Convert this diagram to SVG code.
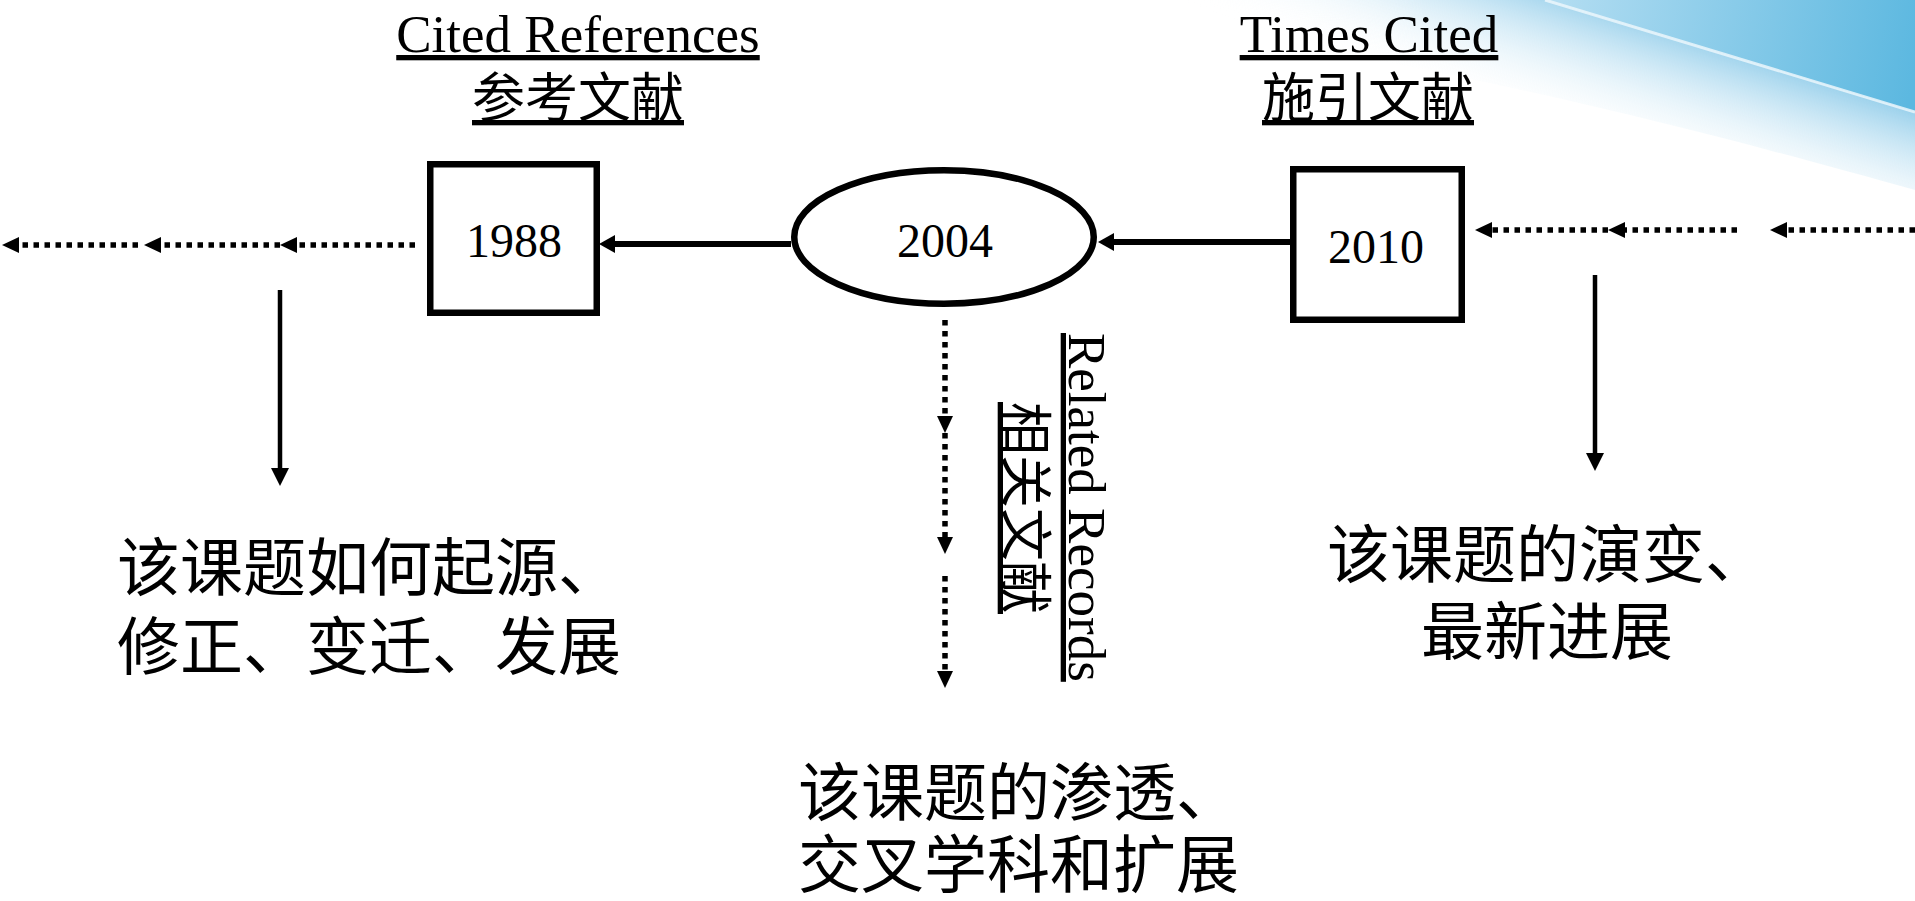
<svg xmlns="http://www.w3.org/2000/svg" width="1915" height="901" viewBox="0 0 1915 901">
<style>
.en{font-family:"Liberation Serif","Times New Roman",serif;fill:#000}
.zh{font-family:"Liberation Serif","Noto Sans CJK SC",serif;fill:#000}
.u{text-decoration:underline}
.shape{fill:#fff;stroke:#000;stroke-width:6.5}
.solid{stroke:#000;stroke-width:6;fill:none}
.thin{stroke:#000;stroke-width:4.5;fill:none}
.dot{stroke:#000;stroke-width:5.5;fill:none;stroke-dasharray:5.5 5.5}
</style>
<defs>
<marker id="ahS" markerUnits="userSpaceOnUse" markerWidth="20" markerHeight="20" refX="0" refY="9" orient="auto" viewBox="0 0 20 20"><path d="M0,0 L16,9 L0,18 Z" fill="#000"/></marker>
<marker id="ahT" markerUnits="userSpaceOnUse" markerWidth="20" markerHeight="20" refX="0" refY="9" orient="auto" viewBox="0 0 20 20"><path d="M0,0 L18,9 L0,18 Z" fill="#000"/></marker>
<marker id="ahD" markerUnits="userSpaceOnUse" markerWidth="20" markerHeight="20" refX="0" refY="8" orient="auto" viewBox="0 0 20 20"><path d="M0,0 L17,8 L0,16 Z" fill="#000"/></marker>
<linearGradient id="gR" gradientUnits="userSpaceOnUse" x1="1545" y1="0" x2="1915" y2="70"><stop offset="0" stop-color="#b5def2"/><stop offset="1" stop-color="#5cb8e0"/></linearGradient>
<linearGradient id="gL" gradientUnits="userSpaceOnUse" x1="1755" y1="60" x2="1715" y2="180"><stop offset="0" stop-color="#9dd2ec"/><stop offset="1" stop-color="#ffffff" stop-opacity="0"/></linearGradient>
<linearGradient id="gM" gradientUnits="userSpaceOnUse" x1="1000" y1="0" x2="1650" y2="0"><stop offset="0" stop-color="#000"/><stop offset="0.65" stop-color="#fff"/><stop offset="1" stop-color="#fff"/></linearGradient>
<mask id="mL" maskUnits="userSpaceOnUse" x="0" y="0" width="1915" height="901"><rect x="0" y="0" width="1915" height="300" fill="url(#gM)"/></mask>
</defs>
<rect width="1915" height="901" fill="#fff"/>
<g id="background">
<path d="M1000,0 L1545,0 L1915,112 L1915,190 C1700,130 1400,50 1000,0 Z" fill="url(#gL)" mask="url(#mL)"/>
<path d="M1545,0 L1915,0 L1915,112 Z" fill="url(#gR)"/>
<line x1="1545" y1="0" x2="1915" y2="112" stroke="#eaf6fc" stroke-width="3" stroke-opacity="0.85"/>
</g>
<g id="labels">
<text class="en u" x="578" y="52" font-size="53" text-anchor="middle">Cited References</text>
<text class="zh u" x="578" y="117" font-size="53" text-anchor="middle">参考文献</text>
<text class="en u" x="1369" y="52" font-size="53" text-anchor="middle">Times Cited</text>
<text class="zh u" x="1368" y="117" font-size="53" text-anchor="middle">施引文献</text>
<text class="en u" font-size="53" transform="translate(1069,333) rotate(90)">Related Records</text>
<text class="zh u" font-size="53" transform="translate(1006,402) rotate(90)">相关文献</text>
</g>
<g id="node-1988">
<rect class="shape" x="430.25" y="164.25" width="166.5" height="148.5"/>
<text class="en" x="514" y="257" font-size="48" text-anchor="middle">1988</text>
</g>
<g id="node-2004">
<ellipse class="shape" cx="944" cy="237" rx="149.75" ry="66.75"/>
<text class="en" x="945" y="257" font-size="48" text-anchor="middle">2004</text>
</g>
<g id="node-2010">
<rect class="shape" x="1293.25" y="169.25" width="168.5" height="150.5"/>
<text class="en" x="1376" y="263" font-size="48" text-anchor="middle">2010</text>
</g>
<g id="text-origin">
<text class="zh" x="117" y="590" font-size="63">该课题如何起源、</text>
<text class="zh" x="117" y="669" font-size="63">修正、变迁、发展</text>
</g>
<g id="text-evolution">
<text class="zh" x="1327" y="577" font-size="63">该课题的演变、</text>
<text class="zh" x="1421" y="654" font-size="63">最新进展</text>
</g>
<g id="text-related">
<text class="zh" x="798" y="815" font-size="63">该课题的渗透、</text>
<text class="zh" x="798" y="887" font-size="63">交叉学科和扩展</text>
</g>
<g id="connectors">
<line class="solid" x1="791" y1="244" x2="615" y2="244" marker-end="url(#ahS)"/>
<line class="solid" x1="1291" y1="242" x2="1114" y2="242" marker-end="url(#ahS)"/>
<line class="thin" x1="280" y1="290" x2="280" y2="468" marker-end="url(#ahT)"/>
<line class="thin" x1="1595" y1="275" x2="1595" y2="453" marker-end="url(#ahT)"/>
<line class="dot" x1="415" y1="245" x2="297" y2="245" marker-end="url(#ahD)"/>
<line class="dot" x1="280" y1="245" x2="161" y2="245" marker-end="url(#ahD)"/>
<line class="dot" x1="138" y1="245" x2="19" y2="245" marker-end="url(#ahD)"/>
<line class="dot" x1="1608" y1="230" x2="1492" y2="230" marker-end="url(#ahD)"/>
<line class="dot" x1="1737" y1="230" x2="1625" y2="230" marker-end="url(#ahD)"/>
<line class="dot" x1="1915" y1="230" x2="1787" y2="230" marker-end="url(#ahD)"/>
<line class="dot" x1="945" y1="320" x2="945" y2="416" marker-end="url(#ahD)"/>
<line class="dot" x1="945" y1="433" x2="945" y2="537" marker-end="url(#ahD)"/>
<line class="dot" x1="945" y1="576" x2="945" y2="671" marker-end="url(#ahD)"/>
</g>
</svg>
